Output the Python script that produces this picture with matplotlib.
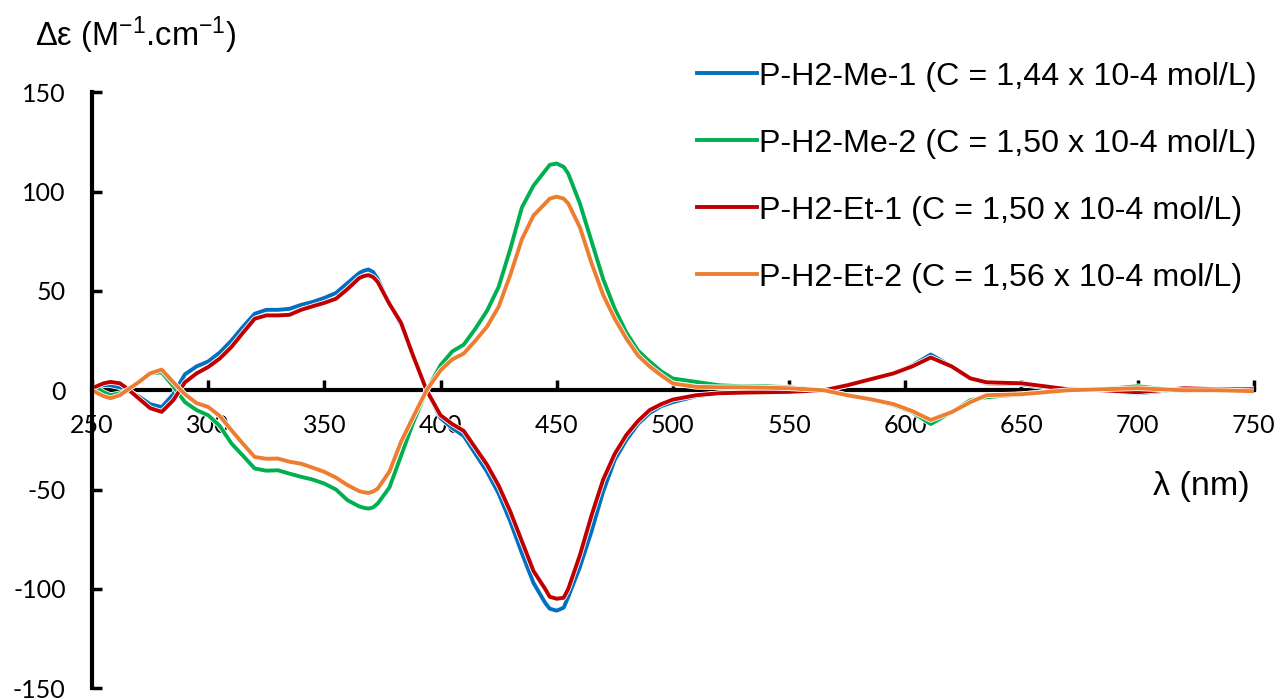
#!/usr/bin/env python3
import matplotlib
matplotlib.use('Agg')
import matplotlib.pyplot as plt
import matplotlib.patheffects as pe

# wavelength grid (nm) and CD values
wl = [250, 255, 258, 262, 265, 270, 275, 280, 285, 290, 295, 300, 305, 310, 315,
      320, 325, 330, 335, 340, 345, 350, 355, 360, 365, 367, 369, 371, 373, 378, 383, 388,
      394, 400, 405, 410, 415, 420, 425, 430, 435, 440, 445, 447, 450, 453, 455, 460, 465,
      470, 475, 480, 485, 490, 495, 500, 510, 520, 530, 540, 550, 565, 575, 585,
      595, 603, 611, 620, 628, 635, 650, 660, 670, 685, 700, 720, 735, 750]

me1 = [1.5, 2.5, 2.5, 1.5, 0, -3, -7, -8.5, -2, 8, 12, 14.5, 19, 25, 32,
       38.5, 40.5, 40.5, 41, 43, 44.5, 46.5, 49, 54, 59, 60.2, 60.8, 59.5, 56, 43.5, 33, 18.4,
       0, -14, -19, -23, -32, -41, -52, -66, -82, -97, -107, -110, -111, -109.5, -104, -89, -71,
       -51, -35, -25, -17, -11.5, -8, -6, -3, -1.5, -1.2, -1, -1, 0, 2.5, 5.5,
       8.5, 12.5, 18, 12, 6, 3.5, 3, 1.5, 0.5, 0, -1.5, 0.5, 0.5, 0.5]

me2 = [3, -1, -2.5, -1.5, 0, 4, 8.5, 9, 2, -6, -10, -12.6, -18, -26.8, -33,
       -39.4, -40.5, -40.3, -42, -43.6, -45, -47, -50, -55.4, -58.5, -59.2, -59.6, -59, -57, -49, -33, -17,
       0, 12.6, 19.5, 23, 31, 40, 52, 71, 92, 103, 110.5, 113.5, 114.2, 112.5, 109, 94, 75,
       56, 41, 29, 20, 14.5, 9.5, 5.9, 4.2, 2.5, 2, 2, 1.5, 0, -2.5, -4.5,
       -7.5, -11, -17, -11, -5, -3.5, -2, -1, 0, 0.5, 2, -0.5, 0, -0.5]

et1 = [1, 3.5, 4.2, 3.5, 1, -4, -9, -10.9, -5, 4, 8.5, 11.7, 16, 21.8, 29,
       36, 37.7, 37.7, 38, 40.5, 42.3, 44, 46.1, 51, 56.5, 57.5, 58, 57, 54.5, 43.5, 34, 18,
       0, -12.6, -17, -20.5, -29, -37.5, -48, -61, -76, -91, -100, -104, -105, -104.5, -100, -83, -63,
       -45, -32, -22.5, -15.5, -10, -7, -4.7, -2.5, -1.5, -1.2, -1, -0.8, 0, 2.5, 5.5,
       8.5, 12, 16.5, 12, 6, 4, 3.5, 2, 0.5, 0, -1, 1, 0.5, 0.5]

et2 = [0, -3, -4, -2.5, 0, 4, 8.5, 10.4, 4, -2, -6.5, -8.4, -13, -20.1, -27,
       -33.6, -34.5, -34.4, -36, -37, -39, -41.1, -44, -47.8, -50.8, -51.4, -51.7, -51, -49.5, -41, -26, -14,
       0, 10, 15.5, 18.5, 25, 32, 42, 58, 76, 88, 94, 96.5, 97.5, 96.5, 94, 82, 64,
       48, 36, 26, 17.5, 12, 7.5, 3.4, 1.7, 1.5, 1.5, 1.3, 1, 0, -2.5, -4.5,
       -7, -10.5, -15, -11, -6, -2.5, -2, -1, 0, 0.5, 1, 0, 0, -0.5]

series = [
    ('P-H2-Me-1 (C = 1,44 x 10-4 mol/L)', me1, '#0070C0'),
    ('P-H2-Me-2 (C = 1,50 x 10-4 mol/L)', me2, '#00B050'),
    ('P-H2-Et-1 (C = 1,50 x 10-4 mol/L)', et1, '#C00000'),
    ('P-H2-Et-2 (C = 1,56 x 10-4 mol/L)', et2, '#ED7D31'),
]

plt.rcParams['mathtext.fontset'] = 'custom'
plt.rcParams['mathtext.rm'] = 'Liberation Sans'
plt.rcParams['mathtext.it'] = 'Liberation Sans'
plt.rcParams['axes.unicode_minus'] = False

fig = plt.figure(figsize=(12.78, 7), dpi=100)
ax = fig.add_axes([0.072, 0.017, 0.909, 0.851])

for name, vals, col in series:
    ax.plot(wl, vals, color=col, lw=2.8, label=name,
            path_effects=[pe.Stroke(linewidth=4.0, foreground='white'), pe.Normal()])

ax.set_xlim(250, 750)
ax.set_ylim(-150, 150)
ax.set_xticks(range(250, 751, 50))
ax.set_yticks(range(-150, 151, 50))

for s in ['top', 'right']:
    ax.spines[s].set_visible(False)
ax.spines['bottom'].set_position(('data', 0))
ax.spines['bottom'].set_linewidth(3)
ax.spines['left'].set_linewidth(3)
ax.spines['bottom'].set_zorder(1)
ax.tick_params(axis='x', direction='in', length=7, width=2.5, pad=17,
               labelsize=18, labelfontfamily='Lato')
ax.tick_params(axis='y', direction='in', length=7, width=2.5, pad=19,
               labelsize=18, labelfontfamily='Lato')

fig.text(0.027, 0.95, r'Δε (M$^{\mathregular{-1}}$.cm$^{\mathregular{-1}}$)',
         fontsize=23.5, family='Liberation Sans', va='center', ha='left')
fig.text(0.978, 0.305, 'λ (nm)', fontsize=24.5, family='Liberation Sans',
         va='center', ha='right')

ax.legend(loc='upper right', bbox_to_anchor=(0.983, 0.912), bbox_transform=fig.transFigure,
          frameon=False, prop={'family': 'Liberation Sans', 'size': 23.2},
          handlelength=1.85, handletextpad=0.05, labelspacing=1.15, borderaxespad=0,
          borderpad=0)

fig.savefig('out.png', dpi=100)
